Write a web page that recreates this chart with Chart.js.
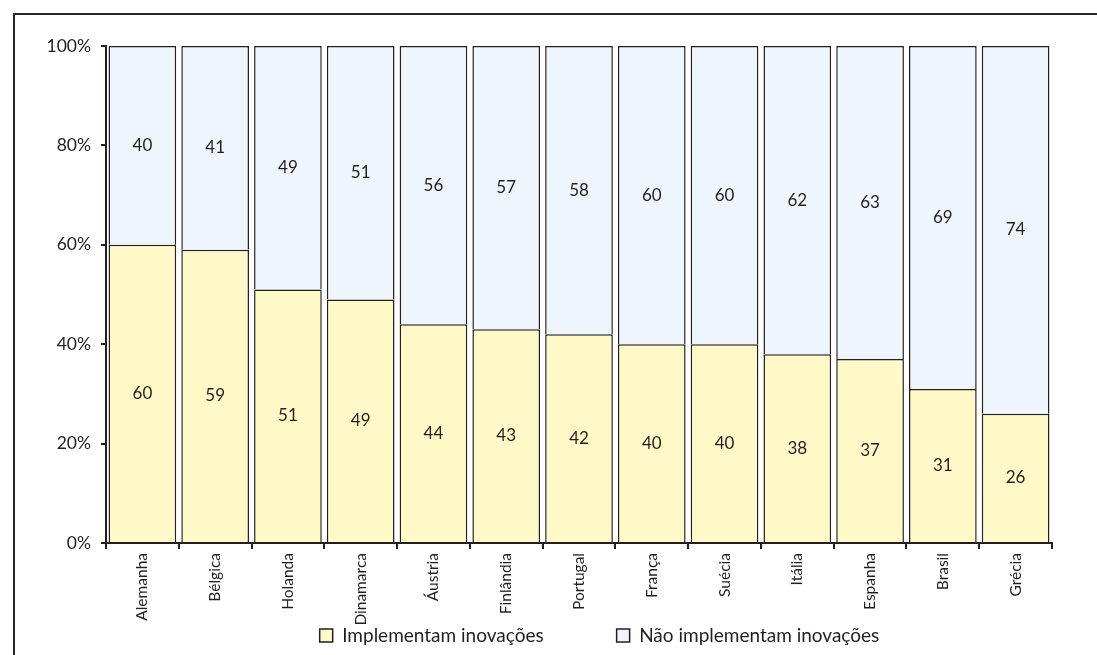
<!DOCTYPE html>
<html>
<head>
<meta charset="utf-8">
<script src="https://cdn.jsdelivr.net/npm/chart.js@4/dist/chart.umd.min.js"></script>
<style>
  html, body { margin: 0; padding: 0; background: #fff; overflow: hidden; }
  #frame {
    position: absolute; left: 13px; top: 13px;
    width: 1084px; height: 642px; overflow: hidden;
    border-top: 2px solid #2a2526; border-left: 2px solid #2a2526;
    box-sizing: border-box;
  }
  /* canvas runs past the right edge so the legend lands where the original has it */
  #wrap { position: absolute; left: 0; top: 0; width: 1143px; height: 640px; }
</style>
</head>
<body>
<div id="frame"><div id="wrap"><canvas id="chart"></canvas></div></div>
<script>
// Inovação por país (% das empresas)
const paises = ['Alemanha', 'Bélgica', 'Holanda', 'Dinamarca', 'Áustria', 'Finlândia',
  'Portugal', 'França', 'Suécia', 'Itália', 'Espanha', 'Brasil', 'Grécia'];
const implementam    = [60, 59, 51, 49, 44, 43, 42, 40, 40, 38, 37, 31, 26];
const naoImplementam = [40, 41, 49, 51, 56, 57, 58, 60, 60, 62, 63, 69, 74];
const yTicks = [0, 20, 40, 60, 80, 100];

const INK = '#231f20';
const FONT = 'Lato, "Open Sans", sans-serif';

// draws the value in the middle of every bar segment
const valueLabels = {
  id: 'valueLabels',
  afterDatasetsDraw(chart) {
    const ctx = chart.ctx;
    ctx.save();
    ctx.font = '17px ' + FONT;
    ctx.fillStyle = INK;
    ctx.textAlign = 'center';
    ctx.textBaseline = 'middle';
    chart.data.datasets.forEach((ds, i) => {
      chart.getDatasetMeta(i).data.forEach((bar, j) => {
        ctx.fillText(ds.data[j], bar.x, (bar.y + bar.base) / 2);
      });
    });
    ctx.restore();
  }
};

new Chart(document.getElementById('chart'), {
  type: 'bar',
  data: {
    labels: paises,
    datasets: [{
      label: 'Implementam inovações',
      data: implementam,
      backgroundColor: '#fff9c8',
      borderColor: INK,
      borderWidth: 1.5,
      barPercentage: 0.93,
      categoryPercentage: 1,
    }, {
      label: 'Não implementam inovações',
      data: naoImplementam,
      backgroundColor: '#eef5fd',
      borderColor: INK,
      borderWidth: 1.5,
      barPercentage: 0.93,
      categoryPercentage: 1,
    }]
  },
  options: {
    responsive: true,
    maintainAspectRatio: false,
    animation: false,
    layout: { padding: { top: 31, right: 0, left: 26, bottom: 0 } },
    scales: {
      x: {
        stacked: true,
        afterFit: s => { s.height = 83; },
        border: { color: INK, width: 2 },
        grid: { offset: true, drawOnChartArea: false, drawTicks: true, tickLength: 6, color: INK, lineWidth: 2 },
        ticks: { color: INK, font: { family: FONT, size: 15.5 }, minRotation: 90, maxRotation: 90, padding: 4 }
      },
      y: {
        stacked: true,
        min: 0, max: 100,
        afterFit: s => { s.width = 65; },
        afterBuildTicks: s => { s.ticks = yTicks.map(v => ({ value: v })); },
        border: { color: INK, width: 2 },
        grid: { drawOnChartArea: false, drawTicks: true, tickLength: 5, color: INK, lineWidth: 2 },
        ticks: { color: INK, font: { family: FONT, size: 17.5 }, padding: 10, callback: v => v + '%' }
      },
      spacer: {
        position: 'right',
        afterFit: s => { s.width = 106; },
        grid: { display: false },
        border: { display: false },
        ticks: { display: false }
      }
    },
    plugins: {
      legend: {
        position: 'bottom',
        labels: {
          color: INK, font: { family: FONT, size: 19 }, boxWidth: 13, boxHeight: 13, padding: 0,
          generateLabels: chart => {
            const items = Chart.defaults.plugins.legend.labels.generateLabels(chart);
            items.forEach(it => { it.strokeStyle = INK; it.lineWidth = 1.5; });
            items[0].text += '\u00a0'.repeat(15);
            return items;
          }
        }
      },
      tooltip: { enabled: false }
    }
  },
  plugins: [valueLabels]
});
</script>
</body>
</html>
